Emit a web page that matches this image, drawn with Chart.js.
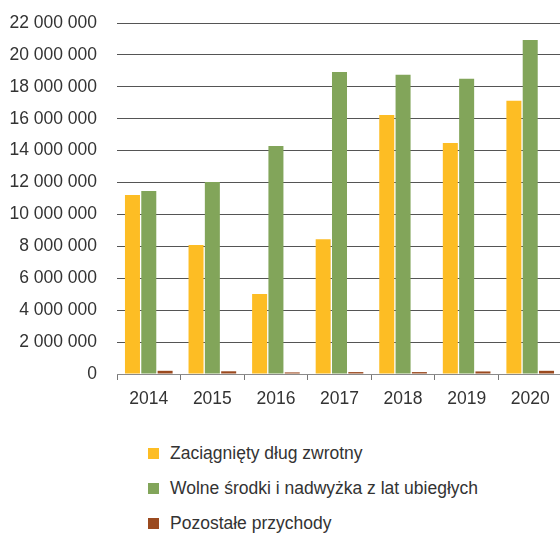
<!DOCTYPE html>
<html>
<head>
<meta charset="utf-8">
<script src="https://cdn.jsdelivr.net/npm/chart.js@4/dist/chart.umd.min.js"></script>
<style>
  html, body { margin: 0; padding: 0; background: #fff; overflow: hidden; }
  #wrap { position: relative; width: 560px; height: 533px; overflow: hidden; }
  #wrap canvas { position: absolute; left: 0; top: 0; }
  #legend { position: absolute; left: 148px; top: 436px; font-family: "Liberation Sans", Arial, sans-serif; font-size: 17.5px; color: #333; }
  #legend .item { display: flex; align-items: center; height: 35px; }
  #legend .box { width: 11px; height: 11px; margin-right: 11px; }
</style>
</head>
<body>
<div id="wrap">
  <canvas id="chart" width="562" height="420" style="width:562px;height:420px"></canvas>
  <div id="legend"></div>
</div>
<script>
const years = ['2014', '2015', '2016', '2017', '2018', '2019', '2020'];
const seriesNames = ['Zaciągnięty dług zwrotny', 'Wolne środki i nadwyżka z lat ubiegłych', 'Pozostałe przychody'];
const debt = [11220000, 8090000, 5020000, 8440000, 16240000, 14480000, 17120000];
const freeFunds = [11470000, 12040000, 14290000, 18930000, 18750000, 18510000, 20940000];
const otherIncome = [200000, 170000, 100000, 120000, 120000, 160000, 200000];
const colors = ['#FDBD24', '#82A55A', '#9B4A1F'];

const yTicks = [0, 2000000, 4000000, 6000000, 8000000, 10000000, 12000000, 14000000, 16000000, 18000000, 20000000, 22000000];

function formatPl(v) {
  return String(v).replace(/\B(?=(\d{3})+(?!\d))/g, ' ');
}

const font = { family: '"Liberation Sans", Arial, sans-serif', size: 17.5 };

const chart = new Chart(document.getElementById('chart'), {
  type: 'bar',
  data: {
    labels: years,
    datasets: [debt, freeFunds, otherIncome].map((vals, i) => ({
      label: seriesNames[i],
      data: vals,
      backgroundColor: colors[i],
      borderWidth: 0,
      categoryPercentage: 0.77,
      barPercentage: 0.92
    }))
  },
  options: {
    responsive: false,
    animation: false,
    layout: { padding: { top: 23, left: 0, right: 0, bottom: 0 } },
    plugins: {
      legend: { display: false },
      tooltip: { enabled: false }
    },
    scales: {
      x: {
        grid: {
          offset: true,
          drawOnChartArea: false,
          drawTicks: true,
          tickLength: 6,
          color: '#777'
        },
        border: { color: '#8a8a8a', width: 1 },
        ticks: { color: '#333', font: font, padding: 9 },
        afterFit: s => { s.height = 46; s.paddingLeft = 0; s.paddingRight = 0; }
      },
      y: {
        min: 0,
        max: 22000000,
        afterBuildTicks: s => { s.ticks = yTicks.map(v => ({ value: v })); },
        grid: { color: '#555', drawTicks: false },
        border: { display: false },
        ticks: { color: '#333', font: font, padding: 20, callback: v => formatPl(v) },
        afterFit: s => { s.width = 117; s.paddingTop = 0; s.paddingBottom = 0; }
      }
    }
  }
});

// legend as a vertical list under the chart
const legend = document.getElementById('legend');
chart.data.datasets.forEach(ds => {
  const item = document.createElement('div');
  item.className = 'item';
  const box = document.createElement('span');
  box.className = 'box';
  box.style.background = ds.backgroundColor;
  const text = document.createElement('span');
  text.textContent = ds.label;
  item.appendChild(box);
  item.appendChild(text);
  legend.appendChild(item);
});
</script>
</body>
</html>
